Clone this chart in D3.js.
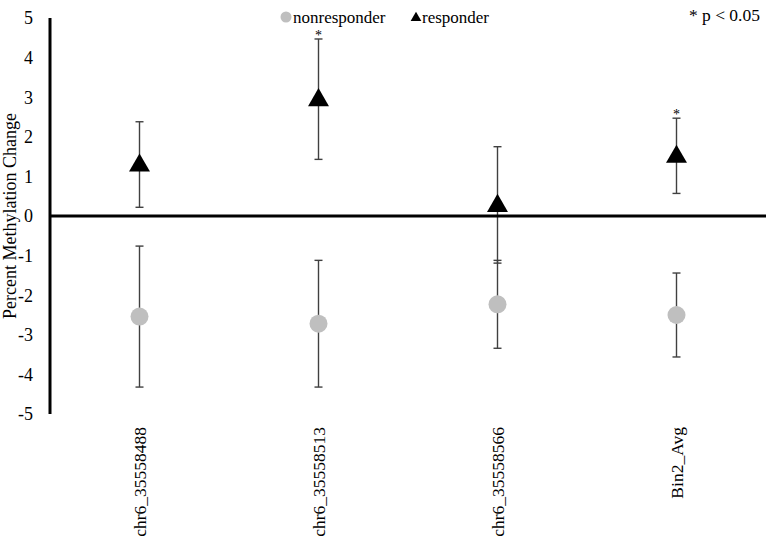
<!DOCTYPE html>
<html>
<head>
<meta charset="utf-8">
<script src="https://cdn.jsdelivr.net/npm/d3@7"></script>
<style>
  body { margin: 0; background: #fff; }
  svg { display: block; font-family: "Liberation Serif", "Times New Roman", serif; }
</style>
</head>
<body>
<svg id="chart"></svg>
<script>
const width = 772;
const height = 544;

// data
const categories = ['chr6_35558488', 'chr6_35558513', 'chr6_35558566', 'Bin2_Avg'];
const responderMean = [1.3, 2.95, 0.28, 1.52];
const responderErr = [1.08, 1.52, 1.47, 0.95];
const nonresponderMean = [-2.54, -2.72, -2.23, -2.5];
const nonresponderErr = [1.78, 1.6, 1.11, 1.06];
const significant = [false, true, false, true];
const yTicks = [-5, -4, -3, -2, -1, 0, 1, 2, 3, 4, 5];

const svg = d3.select('#chart')
    .attr('width', width)
    .attr('height', height);

const x = d3.scaleBand()
    .domain(categories)
    .range([50, 766])
    .padding(0);

const y = d3.scaleLinear()
    .domain([-5, 5])
    .range([414, 18]);

// y tick labels
svg.append('g')
    .selectAll('text')
    .data(yTicks)
    .enter().append('text')
    .attr('x', 33)
    .attr('y', d => y(d))
    .attr('dy', '0.35em')
    .attr('text-anchor', 'end')
    .style('font-size', '18px')
    .text(d => d);

// y axis title
svg.append('text')
    .attr('transform', `translate(16, ${y(0)}) rotate(-90)`)
    .attr('text-anchor', 'middle')
    .style('font-size', '18px')
    .text('Percent Methylation Change');

// category labels
svg.append('g')
    .selectAll('text')
    .data(categories)
    .enter().append('text')
    .attr('transform', d => `translate(${x(d) + x.bandwidth() / 2 + 6}, 427) rotate(-90)`)
    .attr('text-anchor', 'end')
    .style('font-size', '17.5px')
    .text(d => d);

// axis lines
svg.append('line')
    .attr('x1', 50).attr('x2', 50)
    .attr('y1', y(5)).attr('y2', y(-5))
    .style('stroke', '#000')
    .style('stroke-width', 3);

function drawSeries(means, errs, cls) {
    const g = svg.append('g').attr('class', cls);
    const cap = 4;
    const bars = g.selectAll('g')
        .data(categories)
        .enter().append('g');
    bars.append('line')
        .attr('x1', d => x(d) + x.bandwidth() / 2)
        .attr('x2', d => x(d) + x.bandwidth() / 2)
        .attr('y1', (d, i) => y(means[i] + errs[i]))
        .attr('y2', (d, i) => y(means[i] - errs[i]));
    bars.append('line')
        .attr('x1', d => x(d) + x.bandwidth() / 2 - cap)
        .attr('x2', d => x(d) + x.bandwidth() / 2 + cap)
        .attr('y1', (d, i) => y(means[i] + errs[i]))
        .attr('y2', (d, i) => y(means[i] + errs[i]));
    bars.append('line')
        .attr('x1', d => x(d) + x.bandwidth() / 2 - cap)
        .attr('x2', d => x(d) + x.bandwidth() / 2 + cap)
        .attr('y1', (d, i) => y(means[i] - errs[i]))
        .attr('y2', (d, i) => y(means[i] - errs[i]));
    bars.selectAll('line')
        .style('stroke', '#404040')
        .style('stroke-width', 1.4);
    return g;
}

drawSeries(nonresponderMean, nonresponderErr, 'nonresponder');
drawSeries(responderMean, responderErr, 'responder');

// zero line drawn over the error bars
svg.append('line')
    .attr('x1', 50).attr('x2', 766)
    .attr('y1', y(0)).attr('y2', y(0))
    .style('stroke', '#000')
    .style('stroke-width', 3);

const tri = d3.symbol().type(d3.symbolTriangle).size(190);

svg.append('g')
    .selectAll('circle')
    .data(categories)
    .enter().append('circle')
    .attr('cx', d => x(d) + x.bandwidth() / 2)
    .attr('cy', (d, i) => y(nonresponderMean[i]))
    .attr('r', 9)
    .style('fill', '#bfbfbf');

svg.append('g')
    .selectAll('path')
    .data(categories)
    .enter().append('path')
    .attr('d', tri)
    .attr('transform', (d, i) => `translate(${x(d) + x.bandwidth() / 2}, ${y(responderMean[i]) + 1})`)
    .style('fill', '#000');

// significance stars
svg.append('g')
    .selectAll('text')
    .data(categories.filter((d, i) => significant[i]))
    .enter().append('text')
    .attr('x', d => x(d) + x.bandwidth() / 2)
    .attr('y', d => {
        const i = categories.indexOf(d);
        return y(responderMean[i] + responderErr[i]) + 1;
    })
    .attr('text-anchor', 'middle')
    .style('font-size', '14px')
    .text('*');

// legend
const legend = svg.append('g');
legend.append('circle')
    .attr('cx', 286).attr('cy', 17).attr('r', 5.5)
    .style('fill', '#bfbfbf');
legend.append('text')
    .attr('x', 293).attr('y', 23)
    .style('font-size', '17px')
    .text('nonresponder');
legend.append('path')
    .attr('d', d3.symbol().type(d3.symbolTriangle).size(50))
    .attr('transform', 'translate(416, 18)')
    .style('fill', '#000');
legend.append('text')
    .attr('x', 422).attr('y', 23)
    .style('font-size', '17px')
    .text('responder');

svg.append('text')
    .attr('x', 760).attr('y', 21)
    .attr('text-anchor', 'end')
    .style('font-size', '17.5px')
    .text('* p < 0.05');
</script>
</body>
</html>
